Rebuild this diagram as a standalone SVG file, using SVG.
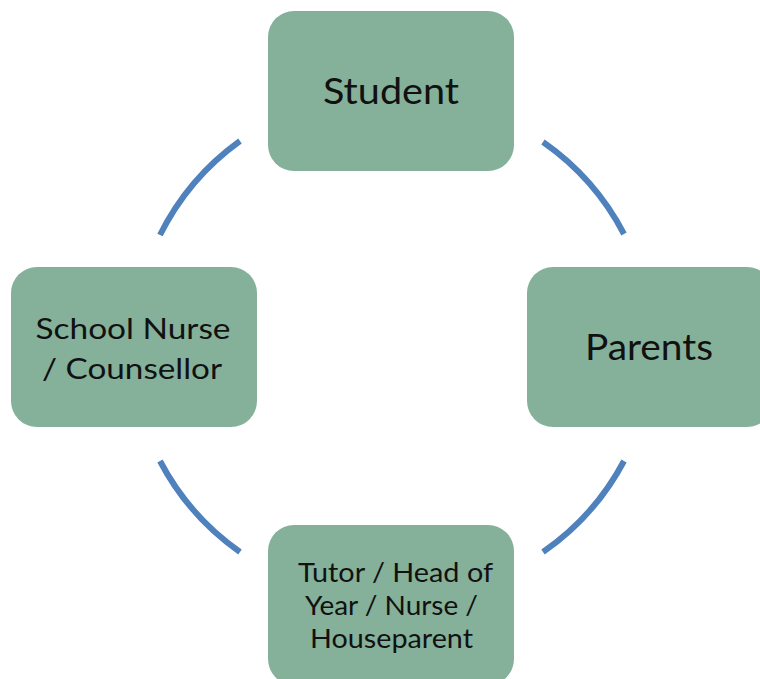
<svg xmlns="http://www.w3.org/2000/svg" width="760" height="679" viewBox="0 0 760 679">
  <style>
    .box { fill: #85B09A; }
    .lbl { font-family: Lato, "Open Sans", sans-serif; fill: #111; text-anchor: middle; }
    .arc { fill: none; stroke: #4F81BD; stroke-width: 6; stroke-linecap: butt; }
  </style>
  <rect width="760" height="679" fill="#ffffff"/>
  <g id="connectors">
    <path class="arc" d="M 240 141 A 257 257 0 0 0 160 235"/>
    <path class="arc" d="M 543 142 A 257 257 0 0 1 624 234"/>
    <path class="arc" d="M 624 461 A 257 257 0 0 1 543 552"/>
    <path class="arc" d="M 160 461 A 257 257 0 0 0 240 552"/>
  </g>
  <g id="student">
    <rect class="box" x="268" y="11" width="246" height="160" rx="26"/>
    <text class="lbl" x="391" y="104" font-size="37" textLength="136" lengthAdjust="spacingAndGlyphs">Student</text>
  </g>
  <g id="parents">
    <rect class="box" x="527" y="267" width="246" height="160" rx="26"/>
    <text class="lbl" x="649" y="360" font-size="37" textLength="128" lengthAdjust="spacingAndGlyphs">Parents</text>
  </g>
  <g id="nurse">
    <rect class="box" x="11" y="267" width="246" height="160" rx="26"/>
    <text class="lbl" x="133" y="339" font-size="29" textLength="195" lengthAdjust="spacingAndGlyphs">School Nurse</text>
    <text class="lbl" x="132" y="379" font-size="29" textLength="180" lengthAdjust="spacingAndGlyphs">/ Counsellor</text>
  </g>
  <g id="tutor">
    <rect class="box" x="268" y="525" width="246" height="160" rx="26"/>
    <text class="lbl" x="395.5" y="582" font-size="26.5" textLength="195" lengthAdjust="spacingAndGlyphs">Tutor / Head of</text>
    <text class="lbl" x="391.5" y="615" font-size="26.5" textLength="173" lengthAdjust="spacingAndGlyphs">Year / Nurse /</text>
    <text class="lbl" x="391.5" y="648" font-size="26.5" textLength="163" lengthAdjust="spacingAndGlyphs">Houseparent</text>
  </g>
</svg>
